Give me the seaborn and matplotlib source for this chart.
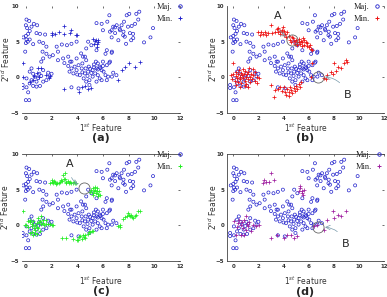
import matplotlib
matplotlib.use("Agg")
import matplotlib.pyplot as plt
import pandas as pd
import seaborn as sns
from matplotlib.lines import Line2D

# Majority class (same in every panel)
maj_pts = [
    (0.05, 8.1), (0.26, 7.9), (0.0, 7.3), (0.1, 6.9), (0.44, 7.1), (0.62, 7.5), (0.88, 7.3),
    (0.3, 6.5), (0.18, 6.1), (0.0, 5.8), (0.05, 5.3), (0.15, 5.0), (0.0, 4.8), (0.3, 5.3),
    (0.83, 6.2), (1.1, 6.1), (1.5, 6.0), (1.05, 5.0), (1.35, 4.8), (0.57, 4.65), (-0.05, 3.6),
    (1.3, 3.6), (1.6, 3.3), (1.35, 2.65), (1.2, 2.2), (1.85, 2.9), (1.6, 4.3), (-0.2, 5.6),
    (2.1, 3.1), (2.5, 3.6), (2.4, 4.3), (2.8, 4.6), (3.2, 4.5), (3.55, 4.7), (3.95, 5.0),
    (2.9, 2.65), (3.3, 2.9), (3.55, 2.2), (3.95, 2.65), (4.3, 3.35), (4.6, 2.9), (4.7, 4.05),
    (5.1, 4.5), (4.85, 5.0), (5.5, 3.8), (6.3, 3.8), (6.7, 3.6),
    (6.5, 8.7), (5.5, 7.6), (5.9, 7.5), (6.34, 7.8), (6.8, 7.1), (7.07, 7.3), (6.55, 6.4),
    (6.95, 6.2), (7.3, 6.8), (7.6, 6.4), (7.2, 5.2), (7.7, 5.7), (7.85, 8.7), (8.05, 8.9),
    (8.6, 8.9), (8.83, 9.2), (8.75, 8.1), (8.5, 7.5), (7.95, 7.1), (8.35, 6.1), (8.2, 5.2),
    (7.8, 4.7), (9.2, 4.9), (9.7, 5.6), (9.9, 6.9), (7.45, 7.3), (6.0, 6.6), (7.64, 7.8),
    (8.24, 7.2), (6.68, 6.6), (7.33, 6.6), (7.58, 5.9), (8.1, 6.2), (6.68, 5.6), (8.36, 5.5),
    (6.94, 7.0),
    (6.2, 3.3), (6.68, 3.45), (6.0, 2.2), (6.5, 2.05),
    (-0.25, -1.07), (-0.25, -1.5), (0.05, -1.4), (0.18, -2.1), (0.0, -3.2), (0.26, -3.2),
    (0.44, -0.4), (0.3, 0.8), (0.57, 0.5), (0.7, 0.1), (0.83, -0.6), (0.96, -0.1), (1.05, 0.5),
    (1.2, 0.2), (0.57, -1.2), (0.83, -1.3), (1.1, -1.2), (1.35, -0.6), (1.6, -0.4), (1.85, 0.1),
    (2.0, 0.5), (1.74, 0.65), (1.35, 1.0), (0.44, 1.25), (0.3, -0.85), (0.05, -0.15),
    (3.55, 1.25), (3.4, 0.8), (3.7, 0.55), (3.95, 1.0), (4.1, 1.7), (4.4, 1.95), (4.2, 0.3),
    (4.5, -0.15), (3.55, -1.4), (4.1, -1.55), (4.7, -0.6), (4.95, -0.4), (5.2, 0.1), (4.85, 0.8),
    (5.2, 1.0), (5.5, 1.25), (5.75, 1.5), (5.9, 1.0), (5.6, 1.95), (5.45, 2.2), (6.3, 1.7),
    (6.55, 2.2), (6.2, 0.3), (6.4, 0.1), (6.7, 0.1), (6.8, 0.65), (5.75, -0.15), (5.5, -0.6),
    (4.95, -1.07), (4.7, 2.4), (4.45, 2.9), (3.45, 2.2), (3.8, 1.5), (4.35, 1.25), (4.65, 1.25),
    (4.9, 1.5), (4.6, 0.55), (5.4, 0.55), (5.6, 0.3), (5.9, -0.4), (6.3, -0.4), (6.05, 0.8),
    (7.05, 0.3), (5.0, 1.2), (5.3, 1.4), (5.6, 1.1), (5.8, 1.3), (4.4, 0.7), (4.0, 0.4),
    (5.1, 0.6), (6.0, 1.6), (5.3, 1.8), (4.8, 0.2), (3.3, 1.6), (3.0, 2.0), (2.5, 2.4),
]

# Minority class, original (a)
min_a = [
    (3.0, 7.2), (3.4, 6.2), (3.0, 6.1), (2.6, 6.3), (2.0, 6.2), (2.0, 5.9), (2.3, 6.1),
    (3.55, 6.6), (3.9, 6.0), (4.0, 6.0), (5.2, 5.4), (5.35, 5.1), (5.5, 4.7), (5.6, 5.2),
    (5.3, 4.7), (5.5, 4.3), (5.45, 5.3), (5.6, 4.9),
    (-0.25, 2.05), (-0.2, 0.0), (0.96, 1.25), (1.2, 1.25), (0.88, 0.55), (0.57, -0.37),
    (0.3, -0.6), (1.6, 0.3), (1.8, -0.15), (1.85, 0.2), (0.6, 0.2), (1.0, 0.0),
    (3.0, -1.7), (4.1, -2.0), (4.4, -1.4), (4.6, -1.2), (4.85, -1.7), (5.1, -1.5),
    (8.0, 2.05), (8.9, 2.2), (8.5, 1.5), (7.7, 1.5), (7.45, 1.0), (7.2, -0.37),
]

# Minority after oversampling (b)
min_b = [
    (-0.2, 0.3), (-0.1, -0.2), (0.0, 0.5), (0.1, -0.5), (0.2, 0.2), (0.25, 0.8), (0.3, -0.1),
    (0.35, 0.4), (0.4, -0.6), (0.45, 1.0), (0.5, 0.1), (0.55, -0.3), (0.6, 0.6), (0.65, -0.8),
    (0.7, 0.3), (0.75, 1.2), (0.8, -0.1), (0.85, 0.5), (0.9, -0.5), (0.95, 0.9), (1.0, 0.0),
    (1.05, -1.0), (1.1, 0.4), (1.15, -0.3), (1.2, 0.8), (1.3, 0.1), (1.35, -0.7), (1.4, 0.5),
    (1.5, -0.2), (1.55, 1.1), (1.6, 0.3), (1.7, -0.5), (1.75, 0.7), (1.85, 0.0), (1.9, -0.85),
    (2.05, -0.15), (0.0, 1.95), (1.27, 1.25), (0.2, -1.1), (0.5, -1.3), (0.9, -1.2), (1.2, -1.4),
    (1.95, 6.3), (2.1, 6.0), (2.2, 6.4), (2.35, 6.1), (2.5, 6.3), (2.6, 5.9), (2.75, 6.2),
    (3.0, 7.3), (3.1, 6.2), (3.3, 6.4), (3.45, 6.8), (3.55, 6.4), (3.6, 6.9), (3.7, 6.5),
    (3.75, 6.1), (3.85, 6.7), (3.9, 6.3), (4.0, 5.9), (4.05, 6.5), (4.15, 6.1), (4.2, 5.7),
    (3.95, 7.0), (4.3, 6.3), (4.4, 5.8),
    (4.5, 5.3), (4.6, 4.9), (4.75, 5.5), (4.8, 5.1), (4.9, 4.7), (5.0, 5.3), (5.05, 4.9),
    (5.1, 4.5), (5.2, 5.0), (5.25, 5.4), (5.3, 4.7), (5.4, 5.1), (5.45, 4.4), (5.5, 4.9),
    (5.6, 5.2), (5.65, 4.6), (5.75, 4.9), (5.85, 4.4), (5.9, 4.8), (6.0, 4.2), (6.1, 4.5),
    (6.2, 4.0), (6.3, 3.8), (5.55, 5.5), (4.65, 5.7),
    (3.0, -1.1), (3.25, -2.7), (3.3, -1.8), (3.6, -1.7), (3.9, -1.9), (4.05, -1.4), (4.15, -2.1),
    (4.3, -1.6), (4.4, -2.0), (4.5, -1.3), (4.6, -1.8), (4.7, -2.2), (4.8, -1.5), (4.9, -1.9),
    (5.0, -1.2), (5.1, -1.6), (5.2, -0.9), (5.3, -1.3), (5.4, -0.7), (4.2, -2.5), (4.45, -2.6),
    (3.75, -1.3),
    (6.3, 1.95), (6.2, 0.1), (7.2, -0.15), (7.5, 0.3), (7.75, 0.8), (8.0, 1.95), (8.3, 1.5),
    (8.55, 1.25), (8.95, 2.4), (9.05, 2.2), (7.9, 0.4), (8.2, 0.9), (8.8, 2.0), (7.4, -0.3),
]

# Minority after synthetic generation (c)
min_c = [
    (2.0, 6.05), (2.1, 5.9), (2.2, 6.2), (2.25, 6.1), (2.35, 5.8), (2.45, 5.9), (2.55, 6.0),
    (2.65, 6.05), (2.75, 6.3), (2.85, 6.2), (2.9, 7.0), (2.95, 6.5), (3.05, 6.5), (3.05, 7.3),
    (3.1, 6.0), (3.15, 6.1), (3.25, 6.2), (3.35, 6.0), (3.45, 6.1), (3.55, 5.9), (3.65, 6.0),
    (3.75, 6.1), (3.8, 5.9), (3.9, 6.0), (2.05, 6.35), (1.9, 5.95),
    (5.0, 4.65), (5.1, 5.0), (5.2, 5.2), (5.2, 4.5), (5.3, 4.8), (5.4, 5.0), (5.45, 4.6),
    (5.5, 4.75), (5.55, 5.2), (5.6, 4.4), (5.7, 4.85), (5.75, 4.3), (5.35, 5.35), (5.25, 4.3),
    (5.65, 4.1),
    (-0.1, 0.1), (0.05, 0.0), (0.15, -0.2), (0.3, 0.8), (0.35, 0.4), (0.44, -0.15), (0.5, 0.2),
    (0.57, 0.65), (0.6, -0.4), (0.7, -0.6), (0.75, 0.1), (0.83, 0.3), (0.9, -0.2), (0.96, -0.4),
    (0.96, 1.0), (1.0, 0.5), (1.1, 0.55), (1.1, -0.75), (1.2, 1.25), (1.2, 0.2), (1.35, 0.3),
    (1.45, 0.1), (1.6, 0.2), (1.6, 0.8), (1.75, 0.25), (1.87, 0.2), (2.0, 0.05), (2.13, 0.0),
    (0.3, -1.07), (0.45, -0.9), (0.57, -1.4), (0.7, -1.1), (0.83, -1.2), (-0.2, 2.0), (0.2, 0.55),
    (1.3, 0.7),
    (2.8, -1.8), (3.15, -1.8), (3.7, -1.95), (3.95, -2.0), (4.1, -1.7), (4.2, -1.55), (4.35, -1.85),
    (4.45, -1.4), (4.6, -1.8), (4.6, -1.3), (4.8, -1.2), (4.9, -1.0), (5.0, -0.9), (5.15, -0.85),
    (5.25, -0.85), (4.05, -2.1), (4.5, -1.6),
    (7.2, -0.15), (7.3, 0.1), (7.35, -0.3), (7.6, 0.9), (7.7, 1.1), (7.85, 1.25), (7.95, 1.7),
    (8.1, 1.25), (8.2, 1.5), (8.3, 1.1), (8.35, 1.0), (8.5, 1.3), (8.6, 1.5), (8.75, 1.95),
    (8.9, 2.05), (8.0, 1.4),
]

# Minority, proposed method (d)
min_d = [
    (0.08, 0.55), (0.35, 0.3), (0.6, 0.1), (0.75, -0.4), (1.0, -0.6), (1.15, -0.15), (1.27, 0.45),
    (0.87, 0.8), (0.48, 0.8), (1.0, 1.25), (1.55, 0.1), (1.8, -0.15), (2.07, 0.0), (1.4, -0.85),
    (0.6, -1.4), (0.87, -1.3), (0.2, -1.4), (0.7, 0.4), (1.1, 0.2), (0.3, -0.3),
    (2.33, 5.9), (2.6, 6.1), (3.0, 7.3), (3.25, 6.4), (2.86, 6.1), (2.45, 6.3),
    (5.3, 5.2), (5.45, 4.85), (5.5, 4.5), (5.25, 4.75), (5.6, 5.0), (5.35, 5.45), (5.55, 4.3),
    (3.0, -1.8), (3.5, -1.4), (4.05, -1.8), (4.3, -1.4), (4.6, -1.3), (4.85, -1.8), (5.1, -1.5),
    (6.45, -0.15), (6.7, 0.0), (7.2, -0.6), (7.5, 0.8), (8.0, 1.0), (8.3, 1.5), (8.55, 1.25),
    (8.95, 1.95), (7.9, 1.95),
]

BLUE = "#2222cc"
panels = [
    # (minority points, minority color, x-left, spines shown, tag)
    (min_a, "#2222cc", -0.3, ["bottom"], "(a)"),
    (min_b, "#ee1111", -0.5, ["left", "bottom"], "(b)"),
    (min_c, "#22ee22", -0.3, ["top", "bottom"], "(c)"),
    (min_d, "#a020a0", -0.5, ["left", "top", "bottom"], "(d)"),
]
# axes rectangles in figure pixels: left, top, right, bottom
boxes = [(22, 6, 180, 113), (227, 6, 384, 113), (22, 154, 180, 261), (227, 154, 384, 261)]
# label placement in figure pixels: xlabel centre y, tag centre y, ylabel centre x
label_px = [(128, 138, 6), (128, 138, 213), (281, 291, 5), (281, 292, 213)]
# legend right edge in figure pixels
legend_right = [187, 384, 187, 386]
# annotation circles: (circle x, circle y, label, text x, text y, rad)
annots = [
    [],
    [(4.7, 5.3, "A", 3.5, 8.6, 0.4), (6.75, 0.0, "B", 9.1, -2.5, 0.4)],
    [(4.55, 5.3, "A", 3.4, 8.6, 0.4)],
    [(6.75, -0.3, "B", 8.95, -2.6, 0.4)],
]

sns.set_style("white")
plt.rcParams["font.family"] = ["DejaVu Sans"]

W, H = 387, 297
fig = plt.figure(figsize=(W / 100, H / 100), dpi=100)
maj = pd.DataFrame(maj_pts, columns=["x", "y"])

for i, (mpts, mcol, xl, spines, tag) in enumerate(panels):
    l, t, r, b = boxes[i]
    xly, tgy, ylx = label_px[i]
    ax = fig.add_axes([l / W, 1 - b / H, (r - l) / W, (b - t) / H])
    hpx, wpx = b - t, r - l
    mdf = pd.DataFrame(mpts, columns=["x", "y"])
    sns.scatterplot(data=maj, x="x", y="y", ax=ax, marker="o", s=5,
                    facecolor="none", edgecolor=BLUE, linewidth=0.5, legend=False)
    sns.scatterplot(data=mdf, x="x", y="y", ax=ax, marker="+", s=9,
                    color=mcol, linewidth=0.55, legend=False)
    ax.set_xlim(xl, 12)
    ax.set_ylim(-5, 10)
    ax.set_xticks(range(0, 13, 2))
    ax.set_yticks([-5, 0, 5, 10])
    ax.tick_params(direction="in", length=1.5, width=0.5, labelsize=4, pad=2,
                   top=True, right=True, colors="#333333")
    for lab in ax.get_xticklabels() + ax.get_yticklabels():
        lab.set_fontweight("bold")
    for s in ["left", "right", "top", "bottom"]:
        ax.spines[s].set_visible(s in spines)
        ax.spines[s].set_linewidth(0.6)
        ax.spines[s].set_color("#444444")
    ax.set_xlabel("1$^{st}$ Feature", fontsize=5.5, color="#333333", va="center")
    ax.xaxis.set_label_coords(0.5, -(xly - b) / hpx)
    ax.set_ylabel("2$^{nd}$ Feature", fontsize=5.5, color="#333333", va="center")
    ax.yaxis.set_label_coords((ylx - l) / wpx, 0.5)
    ax.text(0.5, -(tgy - b) / hpx, tag, transform=ax.transAxes, ha="center", va="center",
            fontsize=8, fontweight="bold")

    for cx, cy, lab, tx, ty, rad in annots[i]:
        ax.plot(cx, cy, "o", ms=8, mfc="none", mec="#666666", mew=0.6)
        ax.annotate(lab, xy=(cx, cy), xytext=(tx, ty), fontsize=8, ha="center", va="center",
                    arrowprops=dict(arrowstyle="->", color="#7799aa", lw=0.5,
                                    shrinkA=4, shrinkB=5, connectionstyle=f"arc3,rad={rad}"))

    handles = [
        Line2D([], [], marker="o", ls="none", mfc="none", mec=BLUE, ms=2.5, mew=0.6),
        Line2D([], [], marker="+", ls="none", color=mcol, ms=3.5, mew=0.7),
    ]
    ax.legend(handles, ["Maj.", "Min."], markerfirst=False, frameon=False,
              loc="upper right", bbox_to_anchor=((legend_right[i] - l) / wpx, 1.06),
              handlelength=0.8, handletextpad=0.5, labelspacing=0.5, borderaxespad=0.0,
              prop={"family": "Liberation Serif", "size": 6})

fig.savefig("out.png", dpi=100)
